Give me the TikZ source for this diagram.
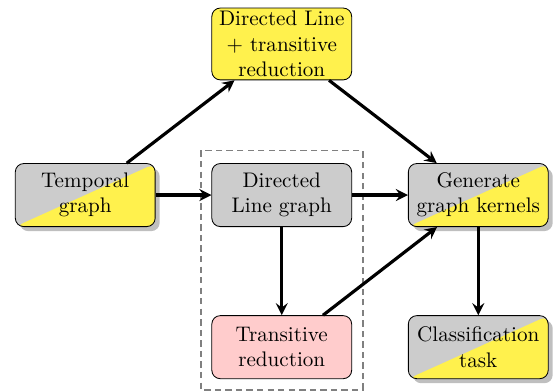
\documentclass[tikz,border=0pt]{standalone}
\usetikzlibrary{shadows, arrows, positioning}
\definecolor{boxyellow}{RGB}{255,241,77}
\tikzset{
    box/.style={draw, rounded corners=4pt, text width=2.15cm, align=center,
        minimum width=2.33cm, minimum height=1.05cm, inner sep=1.5pt},
    splitbox/.style={box, fill=black!20, drop shadow,
        path picture={\fill[boxyellow] (path picture bounding box.south west)
            -- (path picture bounding box.north east)
            -- (path picture bounding box.south east) -- cycle;}},
    flow/.style={-stealth, line width=1.5pt},
}

\begin{document}
\begin{tikzpicture}
\useasboundingbox (0,0) rectangle (9.33,-6.5);

\node[splitbox] (tg) at (1.42,-3.25) {Temporal\\ graph};
\node[box, fill=black!20, right=0.93cm of tg] (dlg) {Directed\\ Line graph};
\node[splitbox, right=0.93cm of dlg] (gen) {Generate\\ graph kernels};
\node[box, fill=boxyellow, above=1.38cm of dlg] (dltr) {Directed Line\\ + transitive\\ reduction};
\node[box, fill=red!20, below=1.47cm of dlg] (tr) {Transitive\\ reduction};
\node[splitbox, below=1.47cm of gen] (cls) {Classification\\ task};

\draw[gray, line width=0.9pt, dash pattern=on 3pt off 2pt]
  ([xshift=-5pt,yshift=6pt]dlg.north west) rectangle ([xshift=5pt,yshift=-5pt]tr.south east);

\draw[flow] (tg) -- (dltr);
\draw[flow] (tg) -- (dlg);
\draw[flow] (dltr) -- (gen);
\draw[flow] (dlg) -- (gen);
\draw[flow] (dlg) -- (tr);
\draw[flow] (tr) -- (gen);
\draw[flow] (gen) -- (cls);
\end{tikzpicture}
\end{document}
